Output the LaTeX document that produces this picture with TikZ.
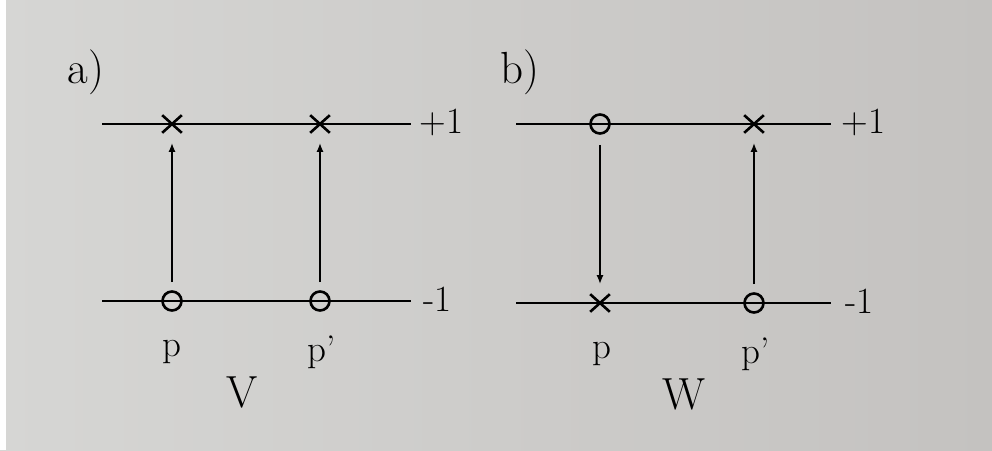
\documentclass[tikz,border=0pt]{standalone}
\usetikzlibrary{arrows.meta,shapes.misc}
\begin{document}
\begin{tikzpicture}[x=1pt,y=-1pt,
  level/.style={line width=2.6pt},
  flip/.style={line width=2pt,-{Latex[length=9pt,width=7pt]}},
  hole/.style={circle,draw,line width=2.6pt,minimum size=19pt,inner sep=0pt},
  elec/.style={cross out,draw,line width=2.6pt,minimum width=17pt,minimum height=15pt,inner sep=0pt},
  lab/.style={font=\fontsize{37}{44}\selectfont},
  big/.style={font=\fontsize{45}{54}\selectfont}]
\definecolor{paperL}{RGB}{214,214,212}
\definecolor{paperR}{RGB}{196,194,192}
\useasboundingbox (0,0) rectangle (992,450);
\shade[left color=paperL,right color=paperR] (0,0) rectangle (992,450);
\fill[white] (0,0) rectangle (6,450);
% panel a
\coordinate (aT0) at (102,124); \coordinate (aT1) at (411,124);
\coordinate (aB0) at (102,301); \coordinate (aB1) at (411,301);
\draw[level] (aT0) -- (aT1);
\draw[level] (aB0) -- (aB1);
\node[elec] (ax1) at (172,124) {};
\node[elec] (ax2) at (320,124) {};
\node[hole] (ao1) at (172,301) {};
\node[hole] (ao2) at (320,301) {};
\draw[flip,shorten <=8pt,shorten >=10pt] (ao1) -- (ax1);
\draw[flip,shorten <=8pt,shorten >=10pt] (ao2) -- (ax2);
\node[lab,anchor=west] (ap1) at (416,122) {+1};
\node[lab,anchor=west] (am1) at (420,299) {-1};
\node[lab] (ap) at (172,352) {p};
\node[lab] (app) at (322,352) {p'};
\node[big] (aV) at (242,392) {V};
\node[big] (aa) at (86,72) {a)};
% panel b
\coordinate (bT0) at (516,124); \coordinate (bT1) at (831,124);
\coordinate (bB0) at (516,303); \coordinate (bB1) at (831,303);
\draw[level] (bT0) -- (bT1);
\draw[level] (bB0) -- (bB1);
\node[hole] (bo1) at (600,124) {};
\node[elec] (bx2) at (754,124) {};
\node[elec] (bx1) at (600,303) {};
\node[hole] (bo2) at (754,303) {};
\draw[flip,shorten <=10pt,shorten >=10pt] (bo1) -- (bx1);
\draw[flip,shorten <=8pt,shorten >=10pt] (bo2) -- (bx2);
\node[lab,anchor=west] (bp1) at (838,122) {+1};
\node[lab,anchor=west] (bm1) at (842,301) {-1};
\node[lab] (bp) at (602,354) {p};
\node[lab] (bpp) at (756,354) {p'};
\node[big] (bW) at (684,394) {W};
\node[big] (bb) at (520,72) {b)};
\end{tikzpicture}
\end{document}
